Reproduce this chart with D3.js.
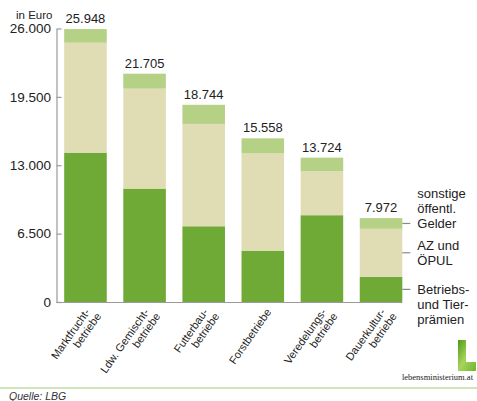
<!DOCTYPE html>
<html>
<head>
<meta charset="utf-8">
<script src="https://cdn.jsdelivr.net/npm/d3@7"></script>
<style>
  body { margin: 0; background: #fff; }
  svg { display: block; font-family: "Liberation Sans", Arial, sans-serif; }
</style>
</head>
<body>
<svg id="chart" width="477" height="401"></svg>
<script>
// Betriebsformen and their income components (in Euro)
const categories = [
  ['Marktfrucht-', 'betriebe'],
  ['Ldw. Gemischt-', 'betriebe'],
  ['Futterbau-', 'betriebe'],
  ['Forstbetriebe'],
  ['Veredelungs-', 'betriebe'],
  ['Dauerkultur-', 'betriebe']
];
const praemien = [14200, 10780, 7200, 4880, 8250, 2400];
const azOepul = [10450, 9500, 9730, 9250, 4170, 4560];
const sonstige = [1298, 1425, 1814, 1428, 1304, 1012];
const totals = [25948, 21705, 18744, 15558, 13724, 7972];
const yTicks = [0, 6500, 13000, 19500, 26000];
const seriesNames = [
  ['Betriebs-', 'und Tier-', 'prämien'],
  ['AZ und', 'ÖPUL'],
  ['sonstige', 'öffentl.', 'Gelder']
];
const colors = ['#6fa936', '#e0dcb4', '#b5d185'];

const de = d3.formatLocale({ decimal: ',', thousands: '.', grouping: [3], currency: ['', ' €'] });
const fmt = de.format(',');

const svg = d3.select('#chart');
const keys = categories.map(c => c.join(' '));

const x = d3.scaleBand()
  .domain(keys)
  .range([56.5, 410])
  .paddingInner(0.28)
  .paddingOuter(0.13);
const y = d3.scaleLinear()
  .domain([0, 26000])
  .range([302, 28.5]);

// stack the three series
const rows = keys.map((k, i) => ({ key: k, s0: praemien[i], s1: azOepul[i], s2: sonstige[i] }));
const stacked = d3.stack().keys(['s0', 's1', 's2'])(rows);

const bars = svg.append('g');
stacked.forEach((layer, li) => {
  bars.selectAll(null)
    .data(layer)
    .join('rect')
    .attr('x', d => x(d.data.key))
    .attr('width', x.bandwidth())
    .attr('y', d => y(d[1]))
    .attr('height', d => y(d[0]) - y(d[1]))
    .attr('fill', colors[li]);
});

// y axis
const yAxis = svg.append('g')
  .attr('transform', 'translate(56.5,0)')
  .call(d3.axisLeft(y).tickValues(yTicks).tickFormat(fmt).tickSizeInner(-5).tickSizeOuter(0).tickPadding(5.5));
yAxis.select('.domain').attr('stroke', '#9a9a9a').attr('stroke-width', 1.2);
yAxis.selectAll('.tick line').attr('stroke', '#9a9a9a').attr('stroke-width', 1.2);
yAxis.selectAll('.tick text')
  .attr('font-size', 13.5)
  .attr('fill', '#222')
  .attr('font-family', '"Liberation Sans", Arial, sans-serif');

// baseline
svg.append('line')
  .attr('x1', 56.5).attr('x2', x(keys[keys.length - 1]) + x.bandwidth())
  .attr('y1', y(0) + 0.5).attr('y2', y(0) + 0.5)
  .attr('stroke', '#9a9a9a').attr('stroke-width', 1.2);

svg.append('text')
  .attr('x', 16).attr('y', 19)
  .attr('font-size', 11.5).attr('fill', '#222')
  .text('in Euro');

// totals above bars
svg.append('g').selectAll('text')
  .data(keys)
  .join('text')
  .attr('x', k => x(k) + x.bandwidth() / 2)
  .attr('y', (k, i) => y(totals[i]) - 6)
  .attr('text-anchor', 'middle')
  .attr('font-size', 13)
  .attr('fill', '#222')
  .text((k, i) => fmt(totals[i]));

// rotated category labels
const catLabels = svg.append('g').selectAll('text')
  .data(categories)
  .join('text')
  .attr('transform', (c, i) => {
    const shift = c.length === 1 ? 4 : 0;
    return `translate(${x(keys[i]) + x.bandwidth() / 2 + 5 + shift},${y(0) + 10}) rotate(-55)`;
  })
  .attr('text-anchor', 'end')
  .attr('font-size', 11)
  .attr('fill', '#222');
catLabels.selectAll('tspan')
  .data(c => c)
  .join('tspan')
  .attr('x', (t, j) => j * 3)
  .attr('dy', (t, j) => j === 0 ? 0 : '1.05em')
  .text(t => t);

// legend on the last bar
const last = stacked.map(layer => layer[layer.length - 1]);
const lx = x(keys[keys.length - 1]) + x.bandwidth();
const align = [0, 0.5, 2]; // which line sits on the tick
const legend = svg.append('g');
last.forEach((seg, li) => {
  const ty = (y(seg[0]) + y(seg[1])) / 2;
  legend.append('line')
    .attr('x1', lx).attr('x2', lx + 8)
    .attr('y1', ty).attr('y2', ty)
    .attr('stroke', '#8a8a8a').attr('stroke-width', 1.2);
  const lines = seriesNames[li];
  legend.append('g').selectAll('text')
    .data(lines)
    .join('text')
    .attr('x', lx + 15)
    .attr('y', (t, j) => ty + 4.5 + (j - align[li]) * 15)
    .attr('font-size', 13)
    .attr('fill', '#222')
    .text(t => t);
});

// footer
svg.append('line')
  .attr('x1', 0).attr('x2', 477)
  .attr('y1', 388).attr('y2', 388)
  .attr('stroke', '#cfe6b9').attr('stroke-width', 2);
svg.append('text')
  .attr('x', 9).attr('y', 399.5)
  .attr('font-size', 10.5).attr('font-style', 'italic').attr('fill', '#333')
  .text('Quelle: LBG');

// ministry logo
const defs = svg.append('defs');
const grad = defs.append('linearGradient').attr('id', 'lg').attr('x1', 0).attr('y1', 0).attr('x2', 1).attr('y2', 1);
grad.append('stop').attr('offset', 0).attr('stop-color', '#4f9a1c');
grad.append('stop').attr('offset', 0.5).attr('stop-color', '#a8d45a');
grad.append('stop').attr('offset', 1).attr('stop-color', '#6db52e');
svg.append('path')
  .attr('d', 'M458,340 L466,340 L466,362 L476,362 L476,371 L458,371 Z')
  .attr('fill', 'url(#lg)');
svg.append('text')
  .attr('x', 473).attr('y', 380)
  .attr('text-anchor', 'end')
  .attr('font-family', '"Liberation Serif", "Times New Roman", serif')
  .attr('font-size', 8.5).attr('fill', '#222')
  .text('lebensministerium.at');
</script>
</body>
</html>
